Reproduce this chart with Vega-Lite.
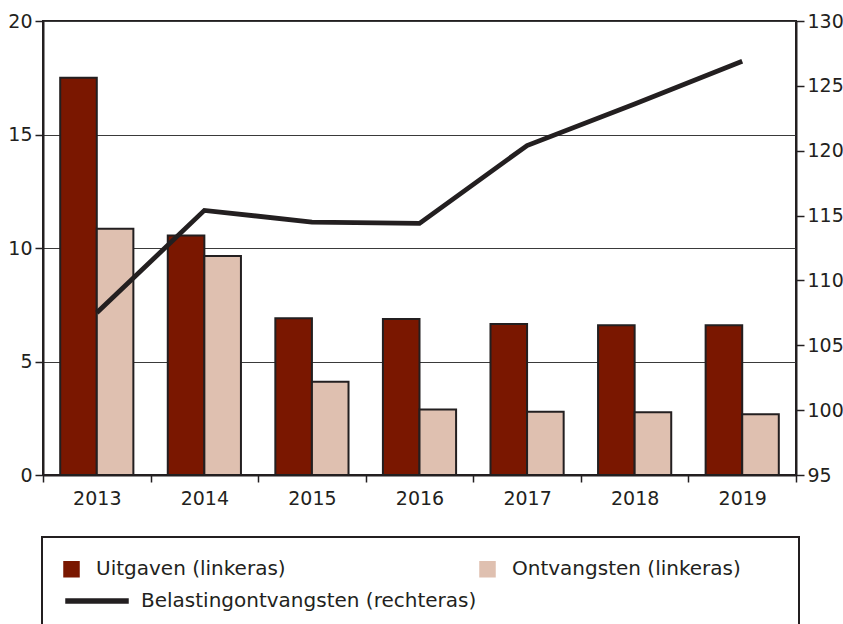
{
  "$schema": "https://vega.github.io/schema/vega-lite/v6.json",
  "width": 753,
  "height": 454,
  "autosize": {"type": "none"},
  "padding": {"left": 43, "top": 21, "right": 47, "bottom": 149},
  "config": {
    "font": "DejaVu Sans",
    "view": {"stroke": "#231f20", "strokeWidth": 2},
    "legend": {"strokeWidth": 2},
    "axis": {
      "labelFont": "DejaVu Sans",
      "labelFontSize": 19,
      "labelColor": "#231f20",
      "domainColor": "#231f20",
      "domainWidth": 2,
      "tickColor": "#231f20",
      "tickWidth": 1.5
    }
  },
  "layer": [
    {
      "data": {
        "values": [
          {"jaar": "2013", "reeks": "Uitgaven (linkeras)", "waarde": 17.5},
          {"jaar": "2013", "reeks": "Ontvangsten (linkeras)", "waarde": 10.85},
          {"jaar": "2014", "reeks": "Uitgaven (linkeras)", "waarde": 10.55},
          {"jaar": "2014", "reeks": "Ontvangsten (linkeras)", "waarde": 9.65},
          {"jaar": "2015", "reeks": "Uitgaven (linkeras)", "waarde": 6.9},
          {"jaar": "2015", "reeks": "Ontvangsten (linkeras)", "waarde": 4.11},
          {"jaar": "2016", "reeks": "Uitgaven (linkeras)", "waarde": 6.87},
          {"jaar": "2016", "reeks": "Ontvangsten (linkeras)", "waarde": 2.89},
          {"jaar": "2017", "reeks": "Uitgaven (linkeras)", "waarde": 6.65},
          {"jaar": "2017", "reeks": "Ontvangsten (linkeras)", "waarde": 2.79},
          {"jaar": "2018", "reeks": "Uitgaven (linkeras)", "waarde": 6.6},
          {"jaar": "2018", "reeks": "Ontvangsten (linkeras)", "waarde": 2.76},
          {"jaar": "2019", "reeks": "Uitgaven (linkeras)", "waarde": 6.6},
          {"jaar": "2019", "reeks": "Ontvangsten (linkeras)", "waarde": 2.68}
        ]
      },
      "mark": {"type": "bar", "stroke": "#231f20", "strokeWidth": 2},
      "encoding": {
        "x": {
          "field": "jaar",
          "type": "nominal",
          "scale": {"paddingInner": 0, "paddingOuter": 0},
          "axis": {"title": null, "labelAngle": 0, "tickBand": "extent", "tickSize": 7, "labelPadding": 7}
        },
        "xOffset": {
          "field": "reeks",
          "type": "nominal",
          "scale": {"domain": ["Uitgaven (linkeras)", "Ontvangsten (linkeras)"], "paddingInner": 0, "paddingOuter": 0.47}
        },
        "y": {
          "field": "waarde",
          "type": "quantitative",
          "scale": {"domain": [0, 20], "nice": false, "zero": true},
          "axis": {"title": null, "values": [0, 5, 10, 15, 20], "grid": true, "gridColor": "#3a3a3a", "gridWidth": 1.2, "tickSize": 8, "labelPadding": 3}
        },
        "color": {
          "field": "reeks",
          "type": "nominal",
          "scale": {
            "domain": ["Uitgaven (linkeras)", "Ontvangsten (linkeras)", "Belastingontvangsten (rechteras)"],
            "range": ["#7a1700", "#dfc0b0", "#231f20"]
          },
          "legend": {
            "orient": "none",
            "legendX": -1,
            "legendY": 516,
            "direction": "horizontal",
            "title": null,
            "columns": 2,
            "columnPadding": 0,
            "rowPadding": 10,
            "padding": 21,
            "strokeColor": "#231f20",
            "symbolSize": 400,
            "symbolStrokeColor": "#231f20",
            "symbolStrokeWidth": 1.5,
            "labelFont": "DejaVu Sans",
            "labelFontSize": 20,
            "labelColor": "#231f20",
            "labelLimit": 600,
            "encoding": {
              "symbols": {
                "shape": {"value": {"expr": "datum.value === 'Belastingontvangsten (rechteras)' ? 'M-0.8,-0.2H5.4V0.2H-0.8Z' : (datum.value === 'Ontvangsten (linkeras)' ? 'M-1,-0.75H0.5V0.75H-1ZM28.5,0' : 'M-1,-0.75H0.5V0.75H-1Z')"}},
                "fill": {"value": {"expr": "scale('color', datum.value)"}},
                "stroke": {"value": "#231f20"},
                "strokeWidth": {"value": 1.5},
                "opacity": {"value": 1},
                "fillOpacity": {"value": 1}
              },
              "labels": {
                "x": {"value": {"expr": "datum.value === 'Belastingontvangsten (rechteras)' ? 78 : 33"}}
              }
            }
          }
        }
      }
    },
    {
      "data": {
        "values": [
          {"jaar": "2013", "belasting": 107.5},
          {"jaar": "2014", "belasting": 115.4},
          {"jaar": "2015", "belasting": 114.5},
          {"jaar": "2016", "belasting": 114.4},
          {"jaar": "2017", "belasting": 120.4},
          {"jaar": "2018", "belasting": 123.6},
          {"jaar": "2019", "belasting": 126.9}
        ]
      },
      "mark": {"type": "line", "strokeWidth": 4.8, "strokeJoin": "miter"},
      "encoding": {
        "x": {"field": "jaar", "type": "nominal"},
        "y": {
          "field": "belasting",
          "type": "quantitative",
          "scale": {"domain": [95, 130], "nice": false, "zero": false},
          "axis": {"orient": "right", "title": null, "values": [95, 100, 105, 110, 115, 120, 125, 130], "grid": false, "tickSize": 8, "labelPadding": 3}
        },
        "color": {
          "datum": "Belastingontvangsten (rechteras)",
          "scale": {
            "domain": ["Uitgaven (linkeras)", "Ontvangsten (linkeras)", "Belastingontvangsten (rechteras)"],
            "range": ["#7a1700", "#dfc0b0", "#231f20"]
          }
        }
      }
    }
  ],
  "resolve": {"scale": {"y": "independent"}}
}
